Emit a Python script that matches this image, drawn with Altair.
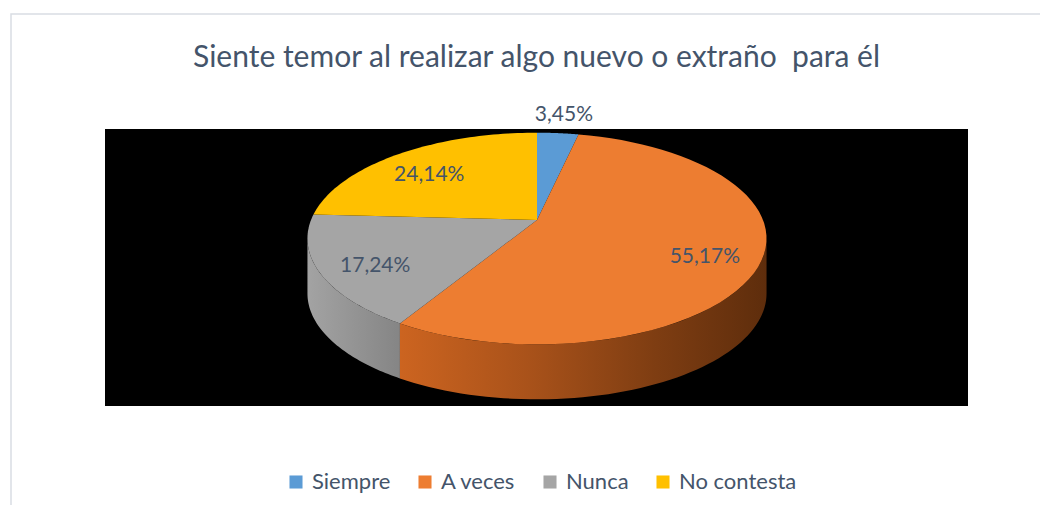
import altair as alt
import pandas as pd

# ---- data ----
categories = ["Siempre", "A veces", "Nunca", "No contesta"]
values = [3.45, 55.17, 17.24, 24.14]
labels = ["3,45%", "55,17%", "17,24%", "24,14%"]
top_colors = ["#5B9BD5", "#ED7D31", "#A5A5A5", "#FFC000"]
title_text = "Siente temor al realizar algo nuevo o extraño\u00a0 para él"

# ---- layout / projection constants (plot-area pixels) ----
W, H = 863, 277
CX, CY = 432, 91          # projected pie centre
S, SY, K = 226, 102.6, 0.175   # horizontal / vertical radius, perspective factor
DEPTH = 55
M = 60                    # points per slice edge
L0, L1 = 0.278, 0.722     # visible part of the side (turns)

base = pd.DataFrame({"cat": categories, "value": values, "label": labels,
                     "order": list(range(len(categories)))})
# helper table: each slice expanded into path steps
steps = base.merge(pd.DataFrame({"k": list(range(0, 2 * M + 2))}), how="cross")

proj_x = f"{CX} + {S} * datum.px / (1 + {K} * datum.pz)"
proj_y = f"{CY} - {SY} * datum.pz / (1 + {K} * datum.pz)"

xs = alt.X("x:Q", scale=alt.Scale(domain=[0, W]), axis=None)
ys = alt.Y("y:Q", scale=alt.Scale(domain=[0, H], reverse=True), axis=None)


def cumulative(chart):
    return (chart
            .transform_calculate(v0="datum.k == 0 ? datum.value : 0")
            .transform_window(cum="sum(v0)", sort=[alt.SortField("order"), alt.SortField("k")],
                              frame=[None, 0])
            .transform_joinaggregate(total="sum(v0)")
            .transform_calculate(t0="(datum.cum - datum.value) / datum.total",
                                 t1="datum.cum / datum.total"))


# ---- side walls ----
def side_layer(cat, stops):
    grad = alt.Gradient(gradient="linear", x1=0, x2=1, y1=0, y2=0,
                        stops=[alt.GradientStop(offset=o, color=c) for o, c in stops])
    return (cumulative(alt.Chart(steps))
            .transform_calculate(s0=f"max(datum.t0, {L0})", s1=f"min(datum.t1, {L1})")
            .transform_filter(f"datum.cat == '{cat}' && datum.s1 > datum.s0")
            .transform_calculate(
                f=f"datum.k <= {M} ? datum.k / {M} : ({2 * M + 1} - datum.k) / {M}",
                dd=f"datum.k <= {M} ? 0 : {DEPTH}")
            .transform_calculate(a="2 * PI * (datum.s0 + (datum.s1 - datum.s0) * datum.f)")
            .transform_calculate(px="sin(datum.a)", pz="cos(datum.a)")
            .transform_calculate(x=proj_x, y=f"{proj_y} + datum.dd")
            .mark_line(filled=True, fill=grad, strokeWidth=0, interpolate="linear")
            .encode(x=xs, y=ys, order="k:Q"))


side_orange = side_layer("A veces", [(0, "#CC6420"), (0.35, "#A9521A"), (0.7, "#7E3D12"), (1, "#5E2D0C")])
side_gray = side_layer("Nunca", [(0, "#A3A3A3"), (1, "#858585")])

# ---- top faces ----
top = (cumulative(alt.Chart(steps))
       .transform_filter(f"datum.k <= {M + 1}")
       .transform_calculate(a=f"2 * PI * (datum.t0 + (datum.t1 - datum.t0) * min(datum.k, {M}) / {M})")
       .transform_calculate(px=f"datum.k > {M} ? 0 : sin(datum.a)",
                            pz=f"datum.k > {M} ? 0 : cos(datum.a)")
       .transform_calculate(x=proj_x, y=proj_y)
       .mark_line(filled=True, strokeWidth=0, interpolate="linear")
       .encode(x=xs, y=ys, order="k:Q",
               color=alt.Color("cat:N", sort=categories,
                               scale=alt.Scale(domain=categories, range=top_colors),
                               legend=alt.Legend(orient="none", legendX=180, legendY=342,
                                                 direction="horizontal", title=None,
                                                 symbolType="square", symbolSize=170,
                                                 symbolStrokeWidth=0,
                                                 labelFont="Lato", labelFontSize=22,
                                                 labelColor="#44546A", labelOffset=5,
                                                 columnPadding=23))))

# ---- data labels ----
text = (alt.Chart(base)
        .transform_window(cum="sum(value)", sort=[alt.SortField("order")], frame=[None, 0])
        .transform_joinaggregate(total="sum(value)")
        .transform_calculate(mid="(datum.cum - datum.value / 2) / datum.total",
                             r="datum.value < 5 ? 1.36 : 0.76")
        .transform_calculate(px="datum.r * sin(2 * PI * datum.mid)",
                             pz="datum.r * cos(2 * PI * datum.mid)")
        .transform_calculate(x=proj_x, y=proj_y)
        .mark_text(font="Lato", fontSize=21, color="#44546A", dy=7)
        .encode(x=xs, y=ys, text="label:N"))

# ---- outer chart-area frame ----
frame = (alt.Chart(pd.DataFrame({"f": [0]}))
         .mark_rect(filled=False, stroke="#D9DDE3", strokeWidth=1.5)
         .encode(x=alt.value(-94), x2=alt.value(940), y=alt.value(-115), y2=alt.value(381)))

chart = (alt.layer(frame, side_gray, side_orange, top, text)
         .properties(width=W, height=H,
                     background="#FFFFFF",
                     padding={"left": 97, "top": 121, "right": 72, "bottom": 99},
                     autosize=alt.AutoSizeParams(type="none"),
                     title=alt.TitleParams(title_text, font="Lato", fontSize=30,
                                           fontWeight="normal", color="#44546A",
                                           anchor="middle", frame="group",
                                           offset=0, dy=60))
         .configure_view(fill="#000000", strokeWidth=0))

chart.save("out.html", embed_options={"renderer": "svg", "actions": False})
